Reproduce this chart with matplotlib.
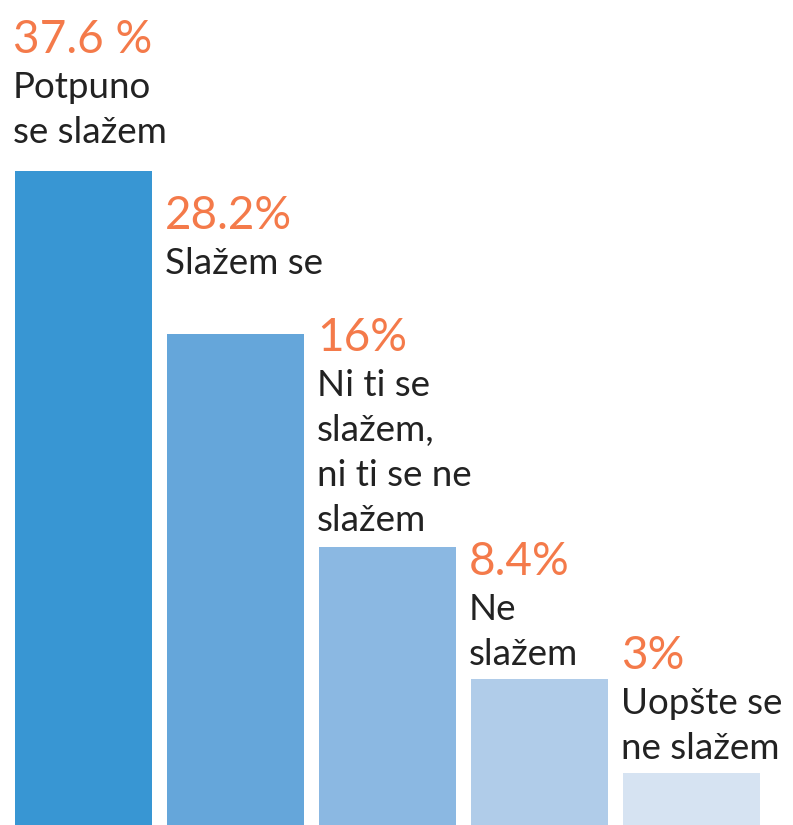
import matplotlib
matplotlib.use("Agg")
import matplotlib.pyplot as plt

# survey answers, share of respondents (%)
values = [37.6, 28.2, 16, 8.4, 3]
pct_labels = ["37.6 %", "28.2%", "16%", "8.4%", "3%"]
answers = [
    "Potpuno\nse slažem",
    "Slažem se",
    "Ni ti se\nslažem,\nni ti se ne\nslažem",
    "Ne\nslažem",
    "Uopšte se\nne slažem",
]
colors = ["#3896d3", "#65a6da", "#8bb8e2", "#b0cce9", "#d6e3f2"]
# gap (px) between last text baseline and bar top
gaps = [28, 60, 16, 14, 14]

orange = "#f47a4a"
dark = "#222222"
line_px = 45
plt.rcParams['font.family'] = ['Lato', 'DejaVu Sans']

fig = plt.figure(figsize=(7.93, 8.25), dpi=100)
ax = fig.add_axes([0, 0, 1, 1])
x = range(len(values))
ax.bar(x, values, width=0.9, color=colors)
ax.set_xlim(-83.5 / 152, (793 - 83.5) / 152)
ax.set_ylim(0, 825 / 17.4)
ax.axis('off')

for i, v in enumerate(values):
    n = answers[i].count("\n") + 1
    left = i - 0.45
    # answer text, last line baseline sits gaps[i] px above the bar
    ax.annotate(answers[i], xy=(left, v), xytext=(-2, gaps[i]),
                textcoords='offset pixels', ha='left', va='baseline',
                fontsize=26.5, color=dark, linespacing=1.44)
    ax.annotate(pct_labels[i], xy=(left, v), xytext=(-2, gaps[i] + n * line_px),
                textcoords='offset pixels', ha='left', va='baseline',
                fontsize=33, color=orange)

fig.savefig("out.png", dpi=100)
